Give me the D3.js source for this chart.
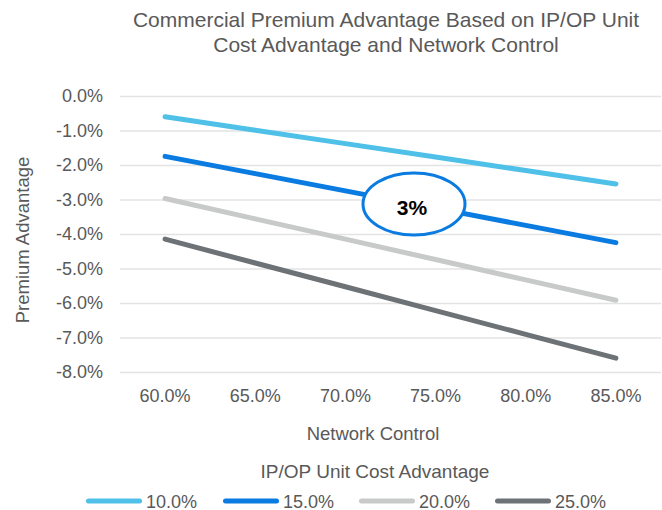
<!DOCTYPE html>
<html>
<head>
<meta charset="utf-8">
<script src="https://cdn.jsdelivr.net/npm/d3@7"></script>
<style>
  body { margin: 0; background: #fff; }
  text { font-family: "Liberation Sans", Arial, sans-serif; fill: #595959; }
</style>
</head>
<body>
<svg id="chart" width="662" height="510"></svg>
<script>
// Datos del gráfico
const networkControl = ["60.0%", "65.0%", "70.0%", "75.0%", "80.0%", "85.0%"];
const seriesNames = ["10.0%", "15.0%", "20.0%", "25.0%"];
const cost10 = [-0.6, -0.99, -1.38, -1.77, -2.16, -2.55];
const cost15 = [-1.75, -2.25, -2.75, -3.25, -3.75, -4.25];
const cost20 = [-2.97, -3.56, -4.15, -4.74, -5.33, -5.92];
const cost25 = [-4.15, -4.84, -5.53, -6.22, -6.91, -7.6];
const yTicks = [0, -1, -2, -3, -4, -5, -6, -7, -8];
const calloutLabel = "3%";

const colors = ["#4fc0e8", "#0a7be0", "#c8c9c9", "#6d7276"];
const allSeries = [cost10, cost15, cost20, cost25];

const svg = d3.select("#chart");

// Control del área de trazado
const plotLeft = 120, plotRight = 661, plotTop = 96, plotBottom = 372;

const x = d3.scaleBand().domain(networkControl).range([plotLeft, plotRight]);
const y = d3.scaleLinear().domain([-8, 0]).range([plotBottom, plotTop]);

// Título
svg.append("text")
  .attr("x", 386).attr("y", 27)
  .attr("text-anchor", "middle")
  .attr("font-size", "21px")
  .text("Commercial Premium Advantage Based on IP/OP Unit");
svg.append("text")
  .attr("x", 386).attr("y", 52)
  .attr("text-anchor", "middle")
  .attr("font-size", "21px")
  .text("Cost Advantage and Network Control");

// Líneas de cuadrícula + etiquetas Y
const yAxis = d3.axisLeft(y)
  .tickValues(yTicks)
  .tickSize(-(plotRight - plotLeft))
  .tickPadding(17)
  .tickFormat(d => d.toFixed(1) + "%");

const gy = svg.append("g")
  .attr("transform", `translate(${plotLeft},0)`)
  .call(yAxis);
gy.select(".domain").remove();
gy.selectAll("line").attr("stroke", "#e3e3e3").attr("stroke-width", 1.3);
gy.selectAll("text")
  .attr("font-size", "18px")
  .attr("fill", "#595959")
  .style("font-family", "Liberation Sans, Arial, sans-serif");

// Etiquetas X
const xAxis = d3.axisBottom(x).tickSize(0).tickPadding(17);
const gx = svg.append("g")
  .attr("transform", `translate(0,${plotBottom})`)
  .call(xAxis);
gx.select(".domain").remove();
gx.selectAll("text")
  .attr("font-size", "18px")
  .attr("fill", "#595959")
  .style("font-family", "Liberation Sans, Arial, sans-serif");

// Títulos de ejes
svg.append("text")
  .attr("x", 373).attr("y", 440)
  .attr("text-anchor", "middle")
  .attr("font-size", "18.5px")
  .text("Network Control");

svg.append("text")
  .attr("transform", "translate(29,240) rotate(-90)")
  .attr("text-anchor", "middle")
  .attr("font-size", "18.5px")
  .text("Premium Advantage");

// Series
const line = d3.line()
  .x((d, i) => x(networkControl[i]) + x.bandwidth() / 2)
  .y(d => y(d));

allSeries.forEach((s, i) => {
  svg.append("path")
    .datum(s)
    .attr("d", line)
    .attr("fill", "none")
    .attr("stroke", colors[i])
    .attr("stroke-width", 5)
    .attr("stroke-linecap", "round");
});

// Llamada "3%"
svg.append("ellipse")
  .attr("cx", 414).attr("cy", 204)
  .attr("rx", 51).attr("ry", 31)
  .attr("fill", "#fff")
  .attr("stroke", "#0a7be0")
  .attr("stroke-width", 3);
svg.append("text")
  .attr("x", 412).attr("y", 215)
  .attr("text-anchor", "middle")
  .attr("font-size", "21px")
  .attr("font-weight", "bold")
  .style("fill", "#000")
  .text(calloutLabel);

// Leyenda
svg.append("text")
  .attr("x", 375).attr("y", 478)
  .attr("text-anchor", "middle")
  .attr("font-size", "19px")
  .text("IP/OP Unit Cost Advantage");

const legendX = [86, 223, 359, 495];
seriesNames.forEach((name, i) => {
  const g = svg.append("g").attr("transform", `translate(${legendX[i]},501)`);
  g.append("line")
    .attr("x1", 2.5).attr("x2", 53.5)
    .attr("stroke", colors[i])
    .attr("stroke-width", 5)
    .attr("stroke-linecap", "round");
  g.append("text")
    .attr("x", 60).attr("y", 6.5)
    .attr("font-size", "18px")
    .text(name);
});
</script>
</body>
</html>
